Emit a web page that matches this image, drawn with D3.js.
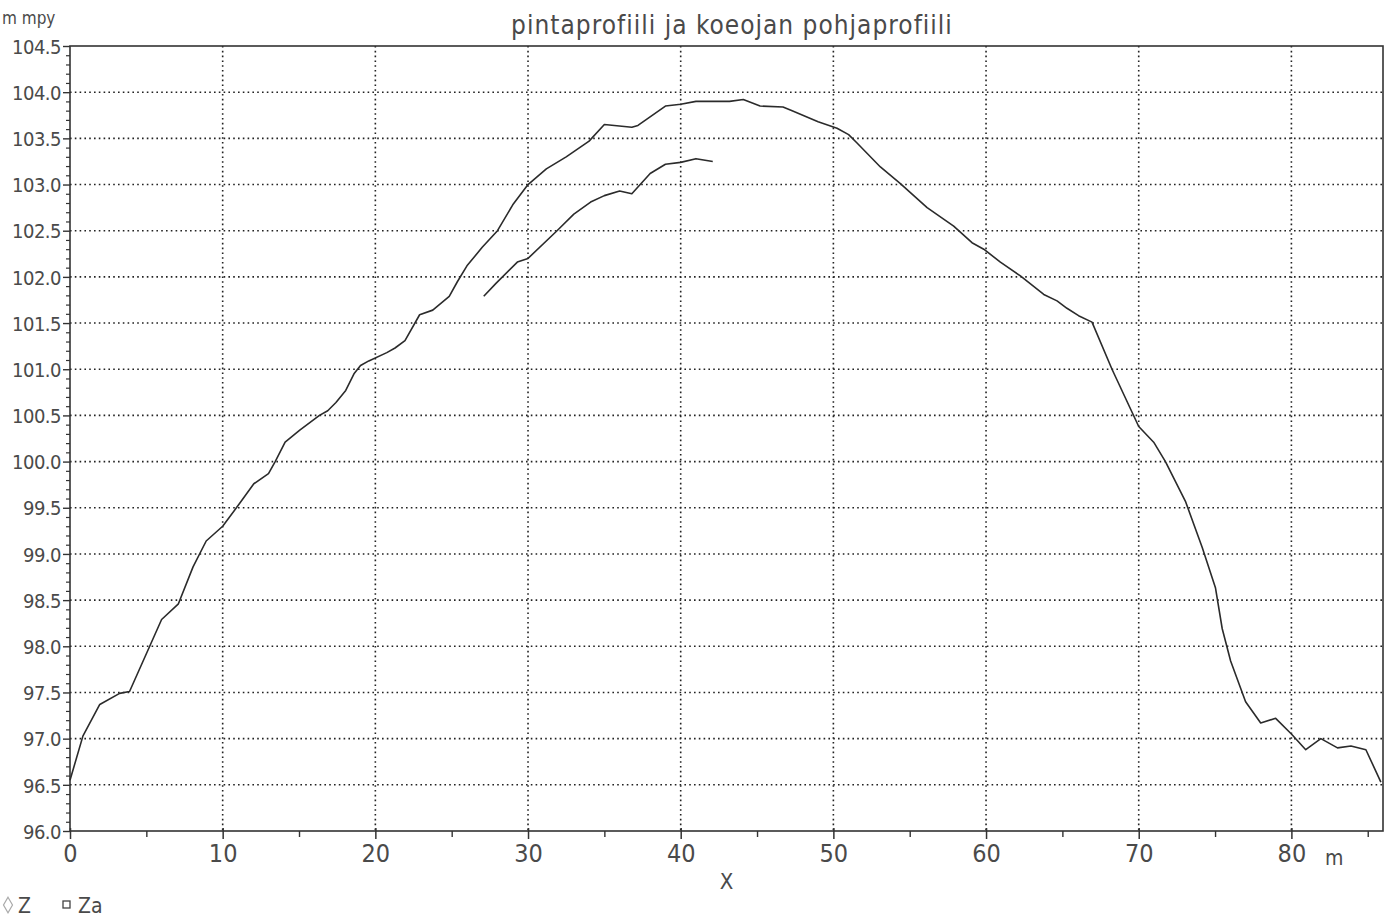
<!DOCTYPE html>
<html>
<head>
<meta charset="utf-8">
<script src="https://cdn.jsdelivr.net/npm/d3@7"></script>
<style>
  body { margin: 0; background: #fff; }
  svg { display: block; }
  text { font-family: 'Liberation Sans Narrow', 'DejaVu Sans Condensed', 'Liberation Sans', sans-serif; fill: #4a4a4a; }
  .grid line { stroke: #222; stroke-width: 1.6; stroke-dasharray: 1.6 3.2; }
  .frame { fill: none; stroke: #333; stroke-width: 1.6; }
  .profile { fill: none; stroke: #2b2b2b; stroke-width: 1.6; stroke-linejoin: round; }
</style>
</head>
<body>
<div id="chart"></div>
<script>
// pintaprofiili (Z)
const zX = [0, 0.85, 1.95, 3.25, 3.9, 6.0, 7.1, 8.06, 8.92, 10, 11.08, 12.04, 13.0, 13.44, 14.09,
  15.05, 16.34, 16.88, 17.42, 18.06, 18.6, 19.03, 19.57, 20.75, 21.29, 21.94, 22.9, 23.76, 24.84,
  25.38, 26.0, 27.0, 28.0, 29.0, 30.0, 31.2, 32.5, 34.0, 35.0, 36.8, 37.2, 39.0, 40.0, 41.0, 43.2,
  44.1, 45.2, 46.7, 47.3, 49.0, 50.24, 51.0, 51.55, 53.08, 54.39, 56.14, 57.88, 59.08, 59.85, 60.94,
  62.25, 63.78, 64.65, 65.3, 66.06, 66.94, 68.25, 70.0, 70.98, 71.75, 73.06, 74.16, 75.03, 75.47,
  76.02, 77.0, 77.99, 78.97, 80.0, 80.94, 81.93, 83.02, 83.9, 84.88, 85.86]
const zY = [96.55, 97.03, 97.37, 97.49, 97.51, 98.29, 98.46, 98.86, 99.14, 99.3, 99.54, 99.76, 99.87,
  100.0, 100.21, 100.34, 100.5, 100.55, 100.64, 100.77, 100.95, 101.04, 101.09, 101.18, 101.23, 101.31,
  101.59, 101.64, 101.79, 101.95, 102.12, 102.32, 102.5, 102.78, 103.0, 103.17, 103.3, 103.47, 103.65,
  103.62, 103.64, 103.85, 103.87, 103.9, 103.9, 103.92, 103.85, 103.84, 103.8, 103.68, 103.61, 103.54,
  103.45, 103.19, 103.01, 102.75, 102.55, 102.37, 102.3, 102.16, 102.01, 101.81, 101.74, 101.66, 101.58,
  101.51, 101.0, 100.38, 100.21, 100.0, 99.57, 99.07, 98.63, 98.19, 97.84, 97.4, 97.17, 97.22, 97.05,
  96.88, 97.0, 96.9, 96.92, 96.88, 96.53]

// koeojan pohjaprofiili (Za)
const zaX = [27.1, 27.9, 29.3, 30.0, 31.9, 33.0, 34.1, 35.0, 36.0, 36.8, 38.0, 39.0, 40.0, 41.0, 42.1]
const zaY = [101.79, 101.93, 102.16, 102.2, 102.5, 102.68, 102.81, 102.88, 102.93, 102.9, 103.12,
  103.22, 103.24, 103.28, 103.25]

const xTickValues = [0, 10, 20, 30, 40, 50, 60, 70, 80]
const xMinorValues = [5, 15, 25, 35, 45, 55, 65, 75, 85]
const yTickValues = d3.range(96, 104.51, 0.5)
const titleText = 'pintaprofiili ja koeojan pohjaprofiili'
const yUnit = 'm mpy'
const xUnit = 'm'
const xLabel = 'X'
const legendLabels = ['Z', 'Za']

const width = 1395
const height = 921
const margin = { top: 46, right: 12, bottom: 90, left: 70 }
const chartWidth = width - margin.left - margin.right
const chartHeight = height - margin.top - margin.bottom

const svg = d3.select('#chart').append('svg')
  .attr('width', width)
  .attr('height', height)

const xScale = d3.scaleLinear().domain([0, 86]).range([0, chartWidth])
const yScale = d3.scaleLinear().domain([96, 104.5]).range([chartHeight, 0])

const g = svg.append('g')
  .attr('transform', `translate(${margin.left},${margin.top})`)

// grid
const grid = g.append('g').classed('grid', true)
grid.selectAll('line.h')
  .data(yTickValues.filter((d) => d > 96 && d < 104.5))
  .enter().append('line')
  .attr('class', 'h')
  .attr('x1', 0).attr('x2', chartWidth)
  .attr('y1', (d) => yScale(d)).attr('y2', (d) => yScale(d))
grid.selectAll('line.v')
  .data(xTickValues.filter((d) => d > 0))
  .enter().append('line')
  .attr('class', 'v')
  .attr('y1', 0).attr('y2', chartHeight)
  .attr('x1', (d) => xScale(d)).attr('x2', (d) => xScale(d))

// frame
g.append('rect').classed('frame', true)
  .attr('x', 0).attr('y', 0)
  .attr('width', chartWidth).attr('height', chartHeight)

// y axis
const yAxis = d3.axisLeft(yScale)
  .tickValues(yTickValues)
  .tickSize(7)
  .tickPadding(2)
  .tickFormat(d3.format('.1f'))
const yAxisG = g.append('g').call(yAxis)
yAxisG.select('.domain').remove()
yAxisG.selectAll('line').attr('stroke', '#333').attr('stroke-width', 1.4)
yAxisG.selectAll('text')
  .style('font-size', '20px')
  .style('letter-spacing', '-0.5px')
  .attr('dy', '0.36em')
  .attr('fill', '#4a4a4a')

const yMinor = d3.axisLeft(yScale)
  .tickValues(d3.range(96, 104.5, 0.1).filter((d) => Math.abs(Math.round(d * 2) - d * 2) > 0.01))
  .tickSize(4)
  .tickFormat('')
const yMinorG = g.append('g').call(yMinor)
yMinorG.select('.domain').remove()
yMinorG.selectAll('line').attr('stroke', '#333').attr('stroke-width', 1.2)

// x axis
const xAxis = d3.axisBottom(xScale)
  .tickValues(xTickValues)
  .tickSize(8)
  .tickPadding(5)
const xAxisG = g.append('g')
  .attr('transform', `translate(0,${chartHeight})`)
  .call(xAxis)
xAxisG.select('.domain').remove()
xAxisG.selectAll('line').attr('stroke', '#333').attr('stroke-width', 1.5).attr('y1', -3)
xAxisG.selectAll('text')
  .style('font-size', '25px')
  .attr('fill', '#4a4a4a')

const xMinor = d3.axisBottom(xScale)
  .tickValues(xMinorValues)
  .tickSize(6)
  .tickFormat('')
const xMinorG = g.append('g')
  .attr('transform', `translate(0,${chartHeight})`)
  .call(xMinor)
xMinorG.select('.domain').remove()
xMinorG.selectAll('line').attr('stroke', '#333').attr('stroke-width', 1.4)

// profiles
const line = d3.line()
  .x((d) => xScale(d[0]))
  .y((d) => yScale(d[1]))

g.append('path').classed('profile', true)
  .attr('d', line(d3.zip(zX, zY)))
g.append('path').classed('profile', true)
  .attr('d', line(d3.zip(zaX, zaY)))

// texts
svg.append('text')
  .attr('x', 732).attr('y', 34)
  .attr('text-anchor', 'middle')
  .style('font-size', '26px')
  .style('letter-spacing', '1px')
  .text(titleText)

svg.append('text')
  .attr('x', 2).attr('y', 24)
  .style('font-size', '17px')
  .text(yUnit)

svg.append('text')
  .attr('x', margin.left + xScale(82.8)).attr('y', 865)
  .attr('text-anchor', 'middle')
  .style('font-size', '21px')
  .text(xUnit)

svg.append('text')
  .attr('x', margin.left + xScale(43)).attr('y', 889)
  .attr('text-anchor', 'middle')
  .style('font-size', '22px')
  .text(xLabel)

// legend
const legend = svg.append('g').attr('transform', 'translate(0,905)')
legend.append('path')
  .attr('d', d3.symbol(d3.symbolDiamond, 70)())
  .attr('transform', 'translate(8,0) scale(1,1)')
  .attr('fill', 'none').attr('stroke', '#aaa').attr('stroke-width', 1.2)
legend.append('rect')
  .attr('x', 63).attr('y', -4).attr('width', 7).attr('height', 7)
  .attr('fill', 'none').attr('stroke', '#444').attr('stroke-width', 1.3)
legend.selectAll('text.lbl')
  .data(legendLabels)
  .enter().append('text')
  .attr('class', 'lbl')
  .attr('x', (d, i) => i === 0 ? 18 : 78)
  .attr('y', 8)
  .style('font-size', '21px')
  .text((d) => d)
</script>
</body>
</html>
